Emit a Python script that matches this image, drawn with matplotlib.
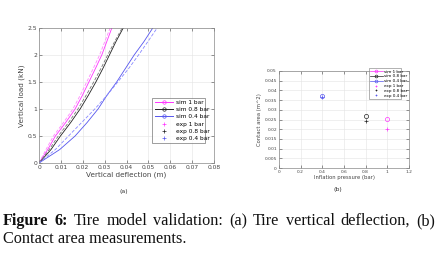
import matplotlib
matplotlib.use("Agg")
import matplotlib.pyplot as plt
from matplotlib.lines import Line2D
import numpy as np

# (a) vertical load vs deflection
load = [0, 0.25, 0.5, 0.75, 1.0, 1.25, 1.5, 1.75, 2.0, 2.25, 2.5]
sim_1bar = [0, 0.0040, 0.0075, 0.0122, 0.0165, 0.0198, 0.0228, 0.0258, 0.0287, 0.0310, 0.0333]
sim_08bar = [0, 0.0055, 0.0098, 0.0145, 0.0188, 0.0225, 0.0260, 0.0292, 0.0322, 0.0352, 0.0385]
sim_04bar = [0, 0.0095, 0.0165, 0.0220, 0.0270, 0.0310, 0.0355, 0.0395, 0.0435, 0.0480, 0.0520]
exp_1bar = [0, 0.0032, 0.0066, 0.0112, 0.0155, 0.0188, 0.0218, 0.0248, 0.0277, 0.0301, 0.0325]
exp_08bar = [0, 0.0047, 0.0088, 0.0135, 0.0178, 0.0215, 0.0250, 0.0283, 0.0314, 0.0346, 0.0380]
exp_04bar = [0, 0.0075, 0.0135, 0.0195, 0.0255, 0.0310, 0.0360, 0.0410, 0.0455, 0.0498, 0.0540]

# (b) contact area vs inflation pressure
pressure = [1.0, 0.8, 0.4]
sim_area = [0.0252, 0.0270, 0.0369]
exp_area = [0.0203, 0.0242, 0.0368]

labels = ["sim 1 bar", "sim 0.8 bar", "sim 0.4 bar", "exp 1 bar", "exp 0.8 bar", "exp 0.4 bar"]
cols = ["#ff33ff", "#222222", "#5555ee"]
light = ["#ff88ff", "#777777", "#8888ff"]

fig = plt.figure(figsize=(4.38, 2.6), dpi=100)
W, H = 438, 260


def px_axes(l, t, r, b):
    return fig.add_axes([l / W, 1 - b / H, (r - l) / W, (b - t) / H])


def style(ax, fs):
    ax.tick_params(direction="in", length=2, width=0.4, labelsize=fs, colors="#444444",
                   top=True, right=True, pad=1.5)
    for s in ax.spines.values():
        s.set_linewidth(0.5)
        s.set_color("#888888")
    ax.grid(True, color="#e4e4e4", linewidth=0.4)
    ax.set_axisbelow(True)


def legend_handles(ms, lw):
    hs = []
    for c in cols:
        hs.append(Line2D([], [], color=c, lw=lw, marker="o", ms=ms, mfc="none", mew=0.5))
    for c in cols:
        hs.append(Line2D([], [], color=c, ls="none", marker="+", ms=ms, mew=0.5))
    return hs


# ---- (a)
ax1 = px_axes(39, 28, 214, 163)
style(ax1, 4.3)
for sim, ex, c, lc in zip([sim_1bar, sim_08bar, sim_04bar], [exp_1bar, exp_08bar, exp_04bar], cols, light):
    ax1.plot(sim, load, color=c, lw=0.6)
    ax1.plot(ex, load, color=lc, lw=0.6, ls=(0, (4, 2)))
ax1.set_xlim(0, 0.08)
ax1.set_ylim(0, 2.5)
ax1.set_xticks(np.arange(0, 0.081, 0.01))
ax1.set_xticklabels(["0", "0.01", "0.02", "0.03", "0.04", "0.05", "0.06", "0.07", "0.08"])
ax1.set_yticks([0, 0.5, 1, 1.5, 2, 2.5])
ax1.set_yticklabels(["0", "0.5", "1", "1.5", "2", "2.5"])
ax1.set_xlabel("Vertical deflection (m)", fontsize=5.2, color="#444444", labelpad=1)
ax1.set_ylabel("Vertical load (kN)", fontsize=5.2, color="#444444", labelpad=2)
leg = ax1.legend(legend_handles(2.5, 0.7), labels, loc="lower left", bbox_to_anchor=(0.63, 0.125, 0.336, 0.33),
                 mode="expand", fontsize=4.2, frameon=True, fancybox=False, handlelength=3.2,
                 borderpad=0.4, labelspacing=0.35, handletextpad=0.4)
leg.get_frame().set_linewidth(0.5)
leg.get_frame().set_edgecolor("#555555")
fig.text(124 / W, 1 - 191 / H, "(a)", fontsize=4.5, ha="center", va="center", color="#333333")

# ---- (b)
ax2 = px_axes(279, 71, 409, 168)
style(ax2, 3.2)
for i, c in enumerate(cols):
    ax2.plot(pressure[i], sim_area[i], marker="o", ms=3, mfc="none", mec=c, mew=0.5, ls="none")
    ax2.plot(pressure[i], exp_area[i], marker="+", ms=3, color=c, mew=0.5, ls="none")
ax2.set_xlim(0, 1.2)
ax2.set_ylim(0, 0.05)
ax2.set_xticks([0, 0.2, 0.4, 0.6, 0.8, 1.0, 1.2])
ax2.set_xticklabels(["0", "0.2", "0.4", "0.6", "0.8", "1", "1.2"])
ax2.set_yticks(np.arange(0, 0.0501, 0.005))
ax2.set_yticklabels(["0", "0.005", "0.01", "0.015", "0.02", "0.025", "0.03", "0.035", "0.04", "0.045", "0.05"])
ax2.set_xlabel("Inflation pressure (bar)", fontsize=3.8, color="#444444", labelpad=1)
ax2.set_ylabel("Contact area (m^2)", fontsize=3.8, color="#444444", labelpad=1.5)
leg2 = ax2.legend(legend_handles(2, 0.5), labels, loc="lower left", bbox_to_anchor=(0.675, 0.69, 0.28, 0.27),
                  mode="expand", fontsize=3, frameon=True, fancybox=False, handlelength=3.0,
                  borderpad=0.3, labelspacing=0.2, handletextpad=0.4)
leg2.get_frame().set_linewidth(0.4)
leg2.get_frame().set_edgecolor("#555555")
fig.text(338 / W, 1 - 190 / H, "(b)", fontsize=4.5, ha="center", va="center", color="#333333")

# ---- caption, first line justified
line1 = [("Figure", "bold"), ("6:", "bold"), ("Tire", "normal"), ("model", "normal"), ("validation:", "normal"),
         ("(a)", "normal"), ("Tire", "normal"), ("vertical", "normal"), ("deflection,", "normal"), ("(b)", "normal")]
cap_fs = 11.7
fam = "Liberation Serif"
renderer = fig.canvas.get_renderer()
widths = []
for w, wt in line1:
    t = fig.text(0, 0, w, fontsize=cap_fs, family=fam, weight=wt)
    widths.append(t.get_window_extent(renderer).width)
    t.remove()
x0, x1 = 3, 435
gap = (x1 - x0 - sum(widths)) / (len(line1) - 1)
x = x0
for (w, wt), wd in zip(line1, widths):
    fig.text(x / W, 1 - 225 / H, w, fontsize=cap_fs, family=fam, weight=wt, va="baseline", color="#111111")
    x += wd + gap
fig.text(x0 / W, 1 - 243 / H, "Contact area measurements.", fontsize=cap_fs, family=fam, va="baseline",
         color="#111111")

fig.savefig("out.png", dpi=100)
